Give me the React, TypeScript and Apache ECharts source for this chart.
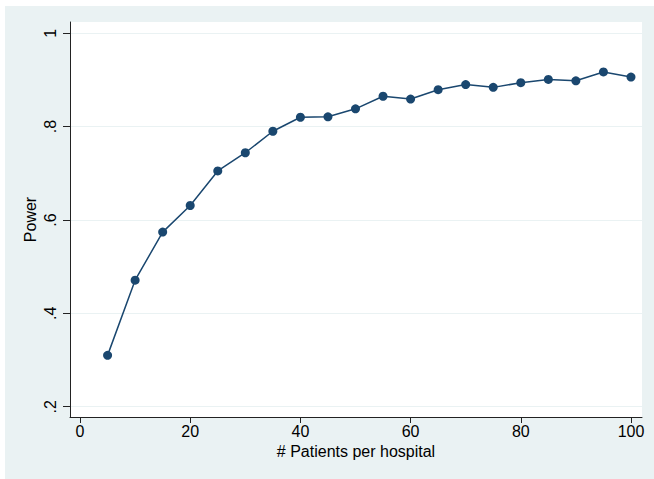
import React, { useEffect, useRef } from "react";
import * as echarts from "echarts";

const patients = [5, 10, 15, 20, 25, 30, 35, 40, 45, 50, 55, 60, 65, 70, 75, 80, 85, 90, 95, 100];
const power = [0.31, 0.471, 0.574, 0.631, 0.705, 0.744, 0.79, 0.82, 0.821, 0.838, 0.865, 0.859, 0.879, 0.89, 0.884, 0.894, 0.901, 0.898, 0.917, 0.906];
const xTicks = [0, 20, 40, 60, 80, 100];
const yTicks = [0.2, 0.4, 0.6, 0.8, 1];

const NAVY = "#1a476f";
const FONT = "'Liberation Sans', Arial, sans-serif";

export default function App() {
  const ref = useRef<HTMLDivElement>(null);
  useEffect(() => {
    if (!ref.current) return;
    const chart = echarts.init(ref.current, null, { renderer: "svg" });
    chart.setOption({
      animation: false,
      backgroundColor: "#EAF2F3",
      textStyle: { fontFamily: FONT },
      grid: {
        left: 65,
        top: 16,
        right: 12,
        bottom: 62,
        show: true,
        backgroundColor: "#ffffff",
        borderWidth: 0,
      },
      xAxis: {
        type: "value",
        min: -1.82,
        max: 102,
        name: "# Patients per hospital",
        nameLocation: "middle",
        nameGap: 24,
        nameTextStyle: { fontSize: 16, color: "#000", fontFamily: FONT },
        axisLine: { show: true, onZero: false, lineStyle: { color: "#222", width: 1 } },
        axisTick: { show: true, length: 6, customValues: xTicks, lineStyle: { color: "#222" } },
        axisLabel: { customValues: xTicks, fontSize: 16, color: "#000", margin: 6, fontFamily: FONT },
        splitLine: { show: false },
      },
      yAxis: {
        type: "value",
        min: 0.178,
        max: 1.024,
        name: "Power",
        nameLocation: "middle",
        nameRotate: 90,
        nameGap: 32,
        nameMoveOverlap: false,
        nameTextStyle: { fontSize: 16, color: "#000", fontFamily: FONT },
        axisLine: { show: true, onZero: false, lineStyle: { color: "#222", width: 1 } },
        axisTick: { show: true, length: 7, customValues: yTicks, lineStyle: { color: "#222" } },
        axisLabel: {
          customValues: yTicks,
          rotate: 90,
          fontSize: 16,
          color: "#000",
          margin: 12,
          fontFamily: FONT,
          formatter: (v: number) => (v >= 1 ? "1" : String(Math.round(v * 10) / 10).replace(/^0/, "")),
        },
        splitLine: { show: true, lineStyle: { color: "#EAF2F3", width: 1 } },
      },
      series: [
        {
          type: "line",
          data: patients.map((p, i) => [p, power[i]]),
          symbol: "circle",
          symbolSize: 9,
          itemStyle: { color: NAVY },
          lineStyle: { color: NAVY, width: 1.5 },
        },
      ],
    });
    return () => chart.dispose();
  }, []);
  return (
    <div
      ref={ref}
      style={{ position: "absolute", left: 5, top: 6, width: 649, height: 473 }}
    />
  );
}
